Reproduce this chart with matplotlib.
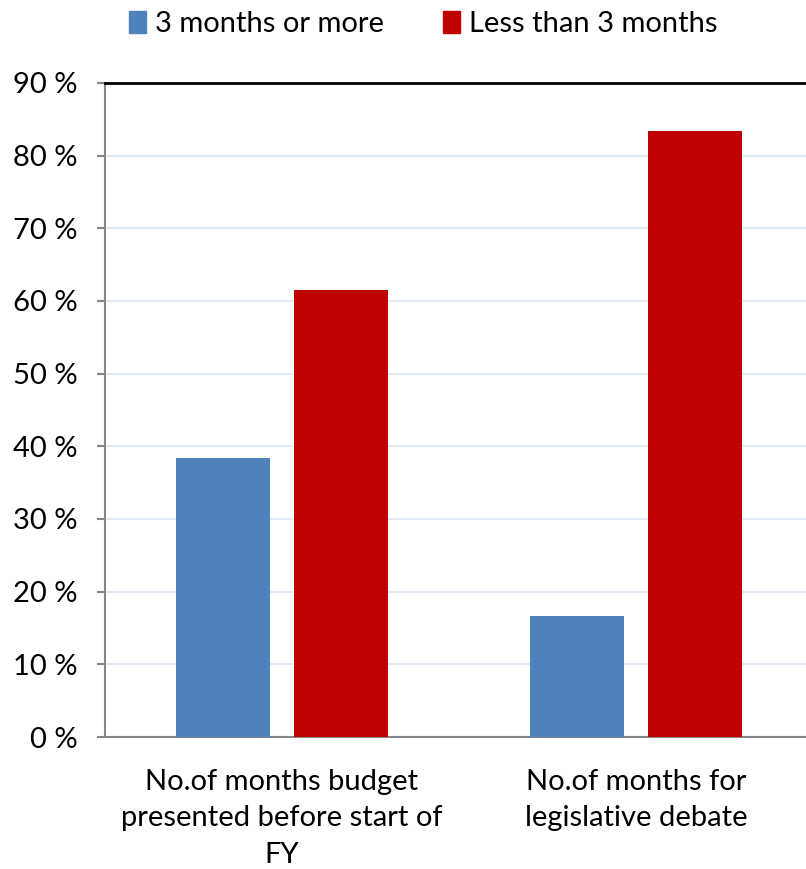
import numpy as np
import matplotlib.pyplot as plt
from matplotlib.patches import Patch

plt.rcParams['font.family'] = ['Lato', 'DejaVu Sans']

# data
categories = ['No.of months budget\npresented before start of\nFY',
              'No.of months for\nlegislative debate']
series = ['3 months or more', 'Less than 3 months']
values_3plus = [38.46, 16.67]
values_less3 = [61.54, 83.33]
colors = ['#4F81BD', '#C00000']

fig = plt.figure(figsize=(8.06, 8.69), dpi=100)
ax = fig.add_axes([105/806, 1 - 737/869, 708/806, 654/869])

x = np.arange(len(categories))
w = 0.266
gap = 0.066
ax.bar(x - (w + gap)/2, values_3plus, w, color=colors[0], zorder=3)
ax.bar(x + (w + gap)/2, values_less3, w, color=colors[1], zorder=3)

ax.set_xlim(-0.5, 1.5)
ax.set_ylim(0, 90)
ax.set_yticks(np.arange(0, 91, 10))
ax.set_yticklabels([f'{v} %' for v in range(0, 91, 10)], fontsize=21)
ax.set_xticks(x)
ax.set_xticklabels(categories, fontsize=21, linespacing=1.5)
ax.tick_params(axis='x', length=0, pad=23)
ax.tick_params(axis='y', length=6, width=1.5, color='#868686', pad=14)

ax.yaxis.grid(True, color='#DCE6F2', linewidth=1.2, zorder=0)
for s in ['right', 'top']:
    ax.spines[s].set_visible(False)
for s in ['left', 'bottom']:
    ax.spines[s].set_color('#868686')
    ax.spines[s].set_linewidth(1.5)
# dark line at the top of the scale
ax.axhline(90, color='black', linewidth=2, zorder=4, clip_on=False)

handles = [Patch(color=c) for c in colors]
fig.legend(handles, series, loc='upper center', bbox_to_anchor=(0.525, 1.018),
           ncol=2, frameon=False, fontsize=21, handlelength=0.6, handleheight=0.8,
           handletextpad=0.3, columnspacing=2.0)

fig.savefig('out.png', dpi=100)
